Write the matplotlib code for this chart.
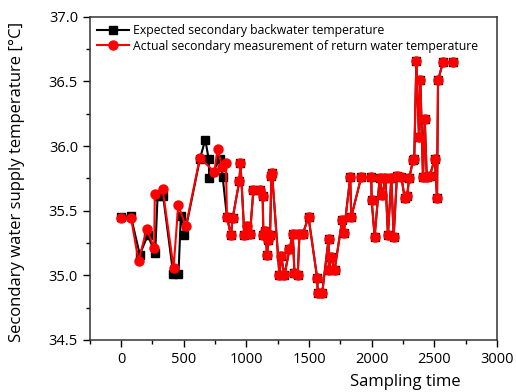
import matplotlib

matplotlib.use("Agg")
import matplotlib.pyplot as plt
from matplotlib.ticker import MultipleLocator

plt.rcParams["font.family"] = ["Open Sans", "DejaVu Sans"]

# actual measurement (red)
actual_t = [0, 80, 139, 205, 264, 269, 331, 419, 456, 517,
            629, 744, 771, 805, 837, 845, 877, 890, 944, 953,
            984, 1005, 1029, 1056, 1112, 1130, 1136, 1152, 1165, 1175,
            1189, 1200, 1205, 1264, 1277, 1304, 1344, 1370, 1384, 1410,
            1424, 1450, 1496, 1565, 1570, 1605, 1656, 1658, 1675, 1704,
            1765, 1778, 1829, 1837, 1917, 1997, 2000, 2024, 2064, 2085,
            2110, 2130, 2157, 2176, 2202, 2237, 2264, 2282, 2300, 2330,
            2340, 2357, 2378, 2389, 2410, 2424, 2440, 2464, 2504, 2522,
            2530, 2570, 2650]
actual_temp = [35.44, 35.44, 35.11, 35.36, 35.21, 35.63, 35.67, 35.06, 35.54, 35.38,
               35.91, 35.80, 35.98, 35.84, 35.87, 35.45, 35.31, 35.44, 35.73, 35.87,
               35.31, 35.38, 35.32, 35.66, 35.66, 35.61, 35.31, 35.34, 35.16, 35.27,
               35.31, 35.77, 35.79, 35.00, 35.15, 35.00, 35.20, 35.32, 35.02, 35.00,
               35.32, 35.32, 35.45, 34.98, 34.86, 34.86, 35.28, 35.04, 35.14, 35.04,
               35.43, 35.33, 35.76, 35.45, 35.76, 35.76, 35.58, 35.30, 35.75, 35.62,
               35.75, 35.31, 35.75, 35.30, 35.77, 35.76, 35.60, 35.61, 35.75, 35.89,
               35.90, 36.66, 36.07, 36.51, 35.76, 36.21, 35.76, 35.77, 35.90, 35.60,
               36.51, 36.65, 36.65]

# expected backwater (black): differs in the early part, same afterwards
expected_head_t = [3, 77, 149, 213, 272, 291, 336, 416, 458, 477,
                   506, 629, 672, 699, 704, 790, 811]
expected_head_temp = [35.45, 35.46, 35.16, 35.31, 35.17, 35.61, 35.61, 35.01, 35.01, 35.46,
                      35.31, 35.90, 36.05, 35.90, 35.75, 35.90, 35.76]
expected_t = expected_head_t + actual_t[15:]
expected_temp = expected_head_temp + actual_temp[15:]

fig = plt.figure(figsize=(5.16, 3.92), dpi=100)
ax = fig.add_axes([0.174, 0.133, 0.789, 0.824])

ax.plot(expected_t, expected_temp, color="black", marker="s", markersize=6,
        linewidth=1.5, label="Expected secondary backwater temperature")
ax.plot(actual_t, actual_temp, color="#ff0000", marker="o", markersize=6.5,
        linewidth=1.5, label="Actual secondary measurement of return water temperature")

ax.set_xlim(-250, 3000)
ax.set_ylim(34.5, 37.0)
ax.xaxis.set_major_locator(MultipleLocator(500))
ax.xaxis.set_minor_locator(MultipleLocator(250))
ax.yaxis.set_major_locator(MultipleLocator(0.5))
ax.yaxis.set_minor_locator(MultipleLocator(0.25))
ax.yaxis.set_major_formatter(matplotlib.ticker.FormatStrFormatter("%.1f"))
ax.tick_params(which="major", direction="out", length=5, width=1, labelsize=10.5)
ax.tick_params(which="minor", direction="out", length=3, width=1)
for s in ax.spines.values():
    s.set_linewidth(1.1)
    s.set_color("#333333")

ax.set_ylabel("Secondary water supply temperature [°C]", fontsize=12)
ax.set_xlabel("Sampling time", fontsize=12)
ax.xaxis.set_label_coords(0.775, -0.105)
ax.yaxis.set_label_coords(-0.16, 0.49)

ax.legend(loc="upper left", frameon=False, fontsize=8.8, handlelength=2.6,
          handletextpad=0.3, borderaxespad=0.2, labelspacing=0.2)

fig.savefig("out.png", dpi=100)
